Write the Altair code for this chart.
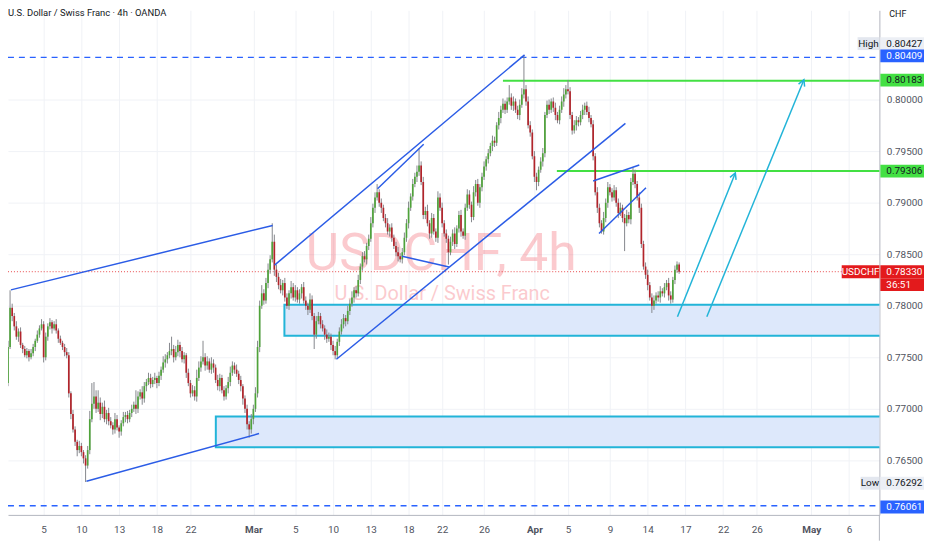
import math

import altair as alt
import pandas as pd

alt.data_transformers.disable_max_rows()

# ------------------------------------------------------------
# 1. Data – USDCHF 4h bars (prices in pips, 1 pip = 0.0001 CHF)
# ------------------------------------------------------------

first_bar = 2        # bar number of the first close below
first_open = 7712

closes = [
    7725, 7760, 7798, 7790, 7780, 7770, 7775, 7762, 7758, 7752,
    7756, 7750, 7754, 7760, 7766, 7772, 7778, 7782, 7750, 7770,
    7780, 7784, 7778, 7782, 7776, 7768, 7764, 7760, 7755, 7752,
    7715, 7695, 7680, 7668, 7660, 7664, 7658, 7652, 7645, 7660,
    7690, 7705, 7712, 7700, 7706, 7695, 7702, 7690, 7696, 7688,
    7684, 7680, 7690, 7682, 7678, 7686, 7692, 7694, 7690, 7696,
    7700, 7704, 7700, 7712, 7716, 7710, 7722, 7726, 7730, 7724,
    7728, 7730, 7725, 7732, 7738, 7745, 7748, 7752, 7756, 7758,
    7750, 7755, 7762, 7756, 7748, 7752, 7735, 7725, 7715, 7718,
    7712, 7730, 7740, 7746, 7750, 7742, 7746, 7738, 7744, 7740,
    7728, 7722, 7730, 7718, 7712, 7720, 7726, 7735, 7742, 7738,
    7734, 7728, 7722, 7710, 7700, 7685, 7680, 7690, 7700, 7715,
    7760, 7800, 7812, 7805, 7822, 7835, 7845, 7862, 7835, 7828,
    7820, 7815, 7822, 7808, 7800, 7812, 7818, 7808, 7815, 7806,
    7812, 7818, 7805, 7800, 7796, 7806, 7790, 7772, 7785, 7790,
    7782, 7778, 7772, 7768, 7770, 7762, 7756, 7752, 7765, 7775,
    7782, 7788, 7785, 7795, 7802, 7808, 7815, 7812, 7825, 7838,
    7848, 7845, 7858, 7865, 7880, 7895, 7905, 7910, 7900, 7895,
    7885, 7880, 7872, 7876, 7866, 7858, 7852, 7848, 7845, 7852,
    7866, 7880, 7895, 7906, 7918, 7925, 7930, 7936, 7920, 7888,
    7892, 7880, 7870, 7885, 7872, 7866, 7905, 7895, 7880, 7870,
    7865, 7852, 7862, 7870, 7860, 7875, 7888, 7872, 7868, 7895,
    7908, 7898, 7886, 7910, 7918, 7900, 7915, 7925, 7935, 7942,
    7948, 7955, 7960, 7958, 7975, 7982, 7990, 7996, 7990, 7998,
    8002, 7994, 7998, 7990, 7985, 7995, 8005, 8010, 7998, 7975,
    7968, 7945, 7925, 7920, 7932, 7940, 7948, 7985, 7995, 7990,
    7998, 7992, 7985, 7980, 7990, 7998, 8005, 8010, 8008, 7985,
    7970, 7975, 7980, 7978, 7985, 7990, 7994, 7988, 7982, 7976,
    7945, 7910, 7895, 7880, 7872, 7885, 7900, 7915, 7910, 7905,
    7912, 7900, 7890, 7895, 7885, 7880, 7888, 7884, 7920, 7928,
    7918, 7905, 7895, 7860, 7838, 7830, 7820, 7808, 7800, 7805,
    7810, 7808, 7814, 7812, 7818, 7822, 7810, 7806, 7825, 7835,
    7840, 7833,
]

# upper / lower wick beyond the body, pips
wick_up = [
    5, 6, 17, 4, 3, 5, 3, 4, 2, 3,
    3, 2, 4, 3, 2, 4, 3, 5, 3, 4,
    3, 4, 2, 3, 5, 2, 3, 2, 3, 4,
    3, 2, 4, 3, 2, 5, 3, 2, 3, 4,
    8, 20, 14, 6, 12, 5, 4, 6, 3, 5,
    4, 3, 6, 4, 2, 3, 5, 3, 4, 3,
    4, 3, 14, 5, 3, 6, 4, 3, 5, 4,
    3, 5, 2, 4, 3, 6, 5, 3, 8, 12,
    4, 6, 5, 3, 4, 3, 2, 4, 3, 5,
    4, 8, 6, 5, 16, 4, 5, 3, 6, 4,
    3, 5, 4, 3, 4, 3, 5, 6, 4, 3,
    5, 3, 4, 2, 3, 4, 3, 5, 4, 6,
    6, 5, 8, 4, 5, 6, 4, 18, 7, 5,
    4, 6, 3, 5, 4, 3, 6, 4, 5, 3,
    4, 3, 5, 4, 3, 6, 4, 3, 5, 4,
    3, 4, 3, 5, 4, 3, 4, 5, 3, 4,
    5, 4, 3, 5, 4, 6, 3, 4, 5, 3,
    4, 5, 3, 4, 6, 4, 5, 8, 3, 4,
    3, 4, 5, 3, 4, 3, 4, 5, 3, 4,
    5, 4, 6, 3, 5, 4, 6, 17, 4, 5,
    4, 6, 3, 5, 4, 3, 6, 4, 5, 3,
    4, 3, 5, 4, 6, 3, 4, 5, 3, 4,
    5, 4, 3, 6, 4, 5, 3, 4, 5, 3,
    4, 3, 5, 4, 3, 6, 4, 5, 3, 4,
    12, 4, 5, 3, 4, 5, 6, 33, 4, 5,
    4, 3, 5, 4, 3, 4, 5, 3, 4, 5,
    3, 4, 5, 3, 4, 5, 6, 4, 9, 4,
    3, 5, 4, 3, 4, 5, 3, 4, 5, 3,
    4, 3, 5, 4, 3, 6, 4, 5, 3, 4,
    5, 3, 4, 5, 3, 4, 5, 3, 4, 6,
    4, 3, 5, 4, 3, 4, 5, 3, 4, 5,
    3, 4, 5, 3, 4, 3, 5, 4, 3, 4,
    3, 2,
]

wick_dn = [
    4, 3, 2, 5, 4, 3, 5, 3, 4, 2,
    3, 4, 2, 3, 4, 2, 3, 2, 5, 3,
    4, 3, 5, 2, 3, 4, 2, 3, 4, 3,
    4, 5, 3, 4, 6, 3, 4, 5, 16, 3,
    4, 3, 5, 4, 3, 6, 4, 3, 5, 4,
    3, 5, 4, 3, 6, 4, 3, 5, 4, 3,
    4, 3, 5, 4, 3, 6, 4, 5, 3, 4,
    3, 4, 5, 3, 4, 3, 5, 4, 3, 4,
    5, 3, 4, 6, 3, 4, 5, 3, 4, 3,
    4, 5, 3, 4, 3, 5, 4, 3, 4, 5,
    3, 4, 5, 3, 4, 3, 5, 4, 3, 4,
    3, 4, 5, 6, 4, 5, 8, 4, 5, 3,
    4, 5, 3, 4, 3, 5, 4, 3, 6, 5,
    4, 3, 5, 4, 3, 4, 5, 3, 4, 3,
    4, 5, 3, 4, 5, 3, 4, 14, 4, 3,
    4, 3, 5, 4, 3, 5, 4, 4, 3, 4,
    3, 4, 5, 3, 4, 3, 5, 4, 3, 4,
    4, 3, 5, 4, 3, 4, 5, 3, 4, 5,
    3, 4, 3, 5, 4, 3, 4, 5, 3, 4,
    3, 4, 5, 3, 4, 3, 5, 4, 3, 4,
    4, 3, 5, 4, 3, 4, 5, 3, 4, 3,
    4, 12, 3, 4, 5, 3, 4, 5, 3, 4,
    3, 4, 5, 3, 4, 3, 5, 4, 3, 4,
    4, 3, 5, 4, 3, 4, 5, 3, 4, 3,
    3, 4, 5, 3, 4, 5, 3, 4, 4, 3,
    4, 3, 5, 8, 4, 3, 5, 4, 3, 4,
    3, 4, 5, 3, 4, 3, 5, 4, 3, 4,
    4, 3, 5, 4, 3, 4, 5, 3, 4, 3,
    4, 3, 5, 4, 2, 3, 4, 5, 3, 4,
    3, 4, 5, 3, 4, 27, 3, 4, 5, 3,
    4, 3, 5, 4, 3, 4, 5, 3, 7, 4,
    3, 4, 5, 3, 4, 3, 5, 4, 3, 4,
    3, 2,
]

# time axis: bar number of each date label (weekends are skipped)
tick_bars = [20, 38, 56, 74, 90, 120, 140, 158, 176, 194, 210,
             230, 254, 270, 290, 308, 326, 344, 360, 386, 404]
tick_labels = ["5", "10", "13", "18", "22", "Mar", "5", "10", "13", "18", "22",
               "26", "Apr", "5", "9", "14", "17", "22", "26", "May", "6"]
month_labels = ["Mar", "Apr", "May"]

price_ticks = [0.765, 0.770, 0.775, 0.780, 0.785, 0.790, 0.795, 0.800]

# drawn objects
dashed_levels = [0.80409, 0.76061]
green_levels = [0.80183, 0.79306]
green_from = [239.0, 264.7]
zone_from = [134.8, 102.1]
zone_top = [0.78010, 0.76926]
zone_bottom = [0.77710, 0.76628]
last_price = 0.78330

# trendlines: bar / price of both ends
tl_bar1 = [4.4, 40.4, 130.1, 179.2, 159.6, 190.9, 282.0, 284.8]
tl_px1 = [0.78154, 0.76298, 0.78394, 0.79135, 0.77481, 0.78480, 0.79210, 0.78700]
tl_bar2 = [129.2, 122.7, 249.3, 201.2, 297.4, 213.3, 304.0, 307.2]
tl_px2 = [0.78779, 0.76760, 0.80433, 0.79567, 0.79769, 0.78375, 0.79365, 0.79144]

# projection arrows
arr_bar1 = [322.2, 336.2]
arr_px1 = [0.77894, 0.77894]
arr_bar2 = [349.8, 382.5]
arr_px2 = [0.79288, 0.80192]

# price-scale tags
tag_price = [0.80427, 0.80409, 0.80183, 0.79306, 0.78330, 0.76292, 0.76061]
tag_text = ["0.80427", "0.80409", "0.80183", "0.79306", "0.78330", "0.76292", "0.76061"]
side_price = [0.80427, 0.78330, 0.76292]
side_text = ["High", "USDCHF", "Low"]
countdown = "36:51"

# ------------------------------------------------------------
# 2. Layout / style
# ------------------------------------------------------------

PLOT_W, PLOT_H = 879, 509
X_DOM = [5.374, 416.12]
Y_DOM = [0.759712, 0.808654]
PX_PER_PRICE = PLOT_H / (Y_DOM[1] - Y_DOM[0])
PX_PER_BAR = PLOT_W / (X_DOM[1] - X_DOM[0])
X_BEYOND = X_DOM[1] + 5   # objects running off the right edge

FONT = "Roboto"
TEXT = "#131722"
AXIS_TXT = "#50535e"
BLUE = "#2962ff"
LINE_BLUE = "#2b5ce6"
GREEN = "#43e043"
RED = "#e31a1c"
CYAN = "#22b4d8"
UP = "#4fa33a"
DOWN = "#b2242b"
WICK = "#85878c"
GRID = "#f0f2f6"

xs = alt.Scale(domain=X_DOM, nice=False, zero=False)
ys = alt.Scale(domain=Y_DOM, nice=False, zero=False)

label_expr = (
    "[" + ",".join(f"'{t}'" for t in tick_labels) + "]"
    + "[indexof([" + ",".join(str(b) for b in tick_bars) + "], datum.value)]"
)
month_test = " || ".join(
    f"datum.value == {b}" for b, t in zip(tick_bars, tick_labels) if t in month_labels
)

x_axis = alt.Axis(
    values=tick_bars, labelExpr=label_expr, title=None, ticks=False,
    grid=True, gridColor=GRID, domainColor="#b2b5be", labelColor=AXIS_TXT,
    labelFont=FONT, labelFontSize=10, labelPadding=10, labelOverlap=False,
    labelFlush=False,
    labelFontWeight={"condition": {"test": month_test, "value": "bold"}, "value": "normal"},
)
y_axis = alt.Axis(
    orient="right", values=price_ticks, format=".5f", title=None, ticks=False,
    grid=True, gridColor=GRID, domainColor="#b2b5be", labelColor=AXIS_TXT,
    labelFont=FONT, labelFontSize=10, labelPadding=7, labelOverlap=False,
    labelFlush=False,
)


def X(f):
    return alt.X(f, type="quantitative", scale=xs, axis=x_axis)


def Y(f):
    return alt.Y(f, type="quantitative", scale=ys, axis=y_axis)


# ------------------------------------------------------------
# 3. Tables
# ------------------------------------------------------------

rows = []
prev = first_open
for k, (c, wu, wd) in enumerate(zip(closes, wick_up, wick_dn)):
    o = prev
    rows.append({
        "bar": first_bar + k,
        "open": o / 1e4,
        "close": c / 1e4,
        "high": (max(o, c) + wu) / 1e4,
        "low": (min(o, c) - wd) / 1e4,
        "dir": "up" if c >= o else "down",
    })
    prev = c
candles = pd.DataFrame(rows)

dashed_df = pd.DataFrame({"p": dashed_levels})
green_df = pd.DataFrame({"p": green_levels, "b1": green_from, "b2": X_BEYOND})
zone_df = pd.DataFrame({"b1": zone_from, "b2": X_BEYOND, "top": zone_top, "bot": zone_bottom})
last_df = pd.DataFrame({"p": [last_price]})
tl_df = pd.DataFrame({"b1": tl_bar1, "p1": tl_px1, "b2": tl_bar2, "p2": tl_px2})
arr_df = pd.DataFrame({"b1": arr_bar1, "p1": arr_px1, "b2": arr_bar2, "p2": arr_px2})
arr_df["ang"] = [
    math.degrees(math.atan2((b2 - b1) * PX_PER_BAR, (p2 - p1) * PX_PER_PRICE))
    for b1, p1, b2, p2 in zip(arr_bar1, arr_px1, arr_bar2, arr_px2)
]

# tag styling: fill, text colour, vertical nudge in px (up)
tag_fill = ["#eceff5", BLUE, GREEN, GREEN, RED, "#eceff5", BLUE]
tag_ink = [TEXT, "white", TEXT, TEXT, "white", TEXT, "white"]
tag_nudge = [12, 1.5, 0.5, 0, 0, -1.4, -1.4]
tags = pd.DataFrame({"p": tag_price, "t": tag_text, "fill": tag_fill, "ink": tag_ink})
tags["pos"] = tags["p"] + pd.Series(tag_nudge) / PX_PER_PRICE

side_fill = ["#e3e7ef", RED, "#e3e7ef"]
side_ink = [TEXT, "white", TEXT]
side_x1 = [857, 841, 860]
side_nudge = [12, 0, -1.4]
sides = pd.DataFrame({"p": side_price, "t": side_text, "fill": side_fill,
                      "ink": side_ink, "x1": side_x1})
sides["pos"] = sides["p"] + pd.Series(side_nudge) / PX_PER_PRICE
sides["xc"] = (sides["x1"] + PLOT_W) / 2

# ------------------------------------------------------------
# 4. Layers
# ------------------------------------------------------------

one = pd.DataFrame({"k": [0]})

watermark = alt.Chart(one).mark_text(
    text="USDCHF, 4h", font=FONT, fontSize=52, color="#f23645", opacity=0.26,
    align="center", baseline="alphabetic",
).encode(x=alt.value(437), y=alt.value(262))

watermark2 = alt.Chart(one).mark_text(
    text="U.S. Dollar / Swiss Franc", font=FONT, fontSize=20, color="#f23645",
    opacity=0.26, align="center", baseline="alphabetic",
).encode(x=alt.value(438), y=alt.value(292))

title = alt.Chart(one).mark_text(
    text="U.S. Dollar / Swiss Franc · 4h · OANDA", font=FONT, fontSize=9.5,
    color=TEXT, align="left", baseline="middle",
).encode(x=alt.value(0), y=alt.value(3))

zones = alt.Chart(zone_df).mark_rect(
    fill="#dde8fb", stroke=CYAN, strokeWidth=2, clip=True
).encode(x=X("b1"), x2="b2", y=Y("top"), y2="bot")

dashed = alt.Chart(dashed_df).mark_rule(
    color=BLUE, strokeWidth=1.5, strokeDash=[6, 5]
).encode(y=Y("p"), x=alt.value(0), x2=alt.value(PLOT_W))

greens = alt.Chart(green_df).mark_rule(color=GREEN, strokeWidth=2, clip=True).encode(
    x=X("b1"), x2="b2", y=Y("p")
)

last_line = alt.Chart(last_df).mark_rule(
    color=RED, strokeWidth=1, strokeDash=[1, 2], opacity=0.8
).encode(y=Y("p"), x=alt.value(0), x2=alt.value(PLOT_W))

wicks = alt.Chart(candles).mark_rule(color=WICK, strokeWidth=1, clip=True).encode(
    x=X("bar"), y=Y("low"), y2="high"
)

bodies = alt.Chart(candles).mark_bar(width=1.7, clip=True).encode(
    x=X("bar"), y=Y("open"), y2="close",
    color=alt.Color("dir:N", scale=alt.Scale(domain=["up", "down"], range=[UP, DOWN]),
                    legend=None),
)

trend = alt.Chart(tl_df).mark_rule(color=LINE_BLUE, strokeWidth=1.5, clip=True).encode(
    x=X("b1"), x2="b2", y=Y("p1"), y2="p2"
)

arrows = alt.Chart(arr_df).mark_rule(color=CYAN, strokeWidth=1.5, clip=True).encode(
    x=X("b1"), x2="b2", y=Y("p1"), y2="p2"
)

heads = alt.Chart(arr_df).mark_point(
    shape="M-0.7,1.3L0,0L0.7,1.3", filled=False, stroke=CYAN, strokeWidth=1.5,
    size=90, opacity=1,
).encode(x=X("b2"), y=Y("p2"), angle=alt.Angle("ang:Q", scale=None))

tag_box = alt.Chart(tags).mark_rect(yOffset=-6.5, y2Offset=6.5).encode(
    y=Y("pos"), y2="pos", x=alt.value(PLOT_W + 1), x2=alt.value(PLOT_W + 45),
    fill=alt.Fill("fill:N", scale=None),
)
tag_txt = alt.Chart(tags).mark_text(
    font=FONT, fontSize=10, align="left", baseline="middle"
).encode(
    y=Y("pos"), x=alt.value(PLOT_W + 7), text="t:N",
    color=alt.Color("ink:N", scale=None),
)

count_box = alt.Chart(last_df).mark_rect(fill=RED, yOffset=6.5, y2Offset=19.5).encode(
    y=Y("p"), y2="p", x=alt.value(PLOT_W + 1), x2=alt.value(PLOT_W + 45)
)
count_txt = alt.Chart(last_df).mark_text(
    text=countdown, font=FONT, fontSize=10, align="left", baseline="middle",
    color="white", dy=13,
).encode(y=Y("p"), x=alt.value(PLOT_W + 7))

side_box = alt.Chart(sides).mark_rect(yOffset=-6.5, y2Offset=6.5).encode(
    y=Y("pos"), y2="pos", x=alt.X("x1:Q", scale=None), x2=alt.value(PLOT_W),
    fill=alt.Fill("fill:N", scale=None),
)
side_txt = alt.Chart(sides).mark_text(
    font=FONT, fontSize=10, align="center", baseline="middle"
).encode(
    y=Y("pos"), x=alt.X("xc:Q", scale=None), text="t:N",
    color=alt.Color("ink:N", scale=None),
)

ccy = alt.Chart(one).mark_text(
    text="CHF", font=FONT, fontSize=9, color=TEXT, align="left", baseline="middle"
).encode(x=alt.value(PLOT_W + 10), y=alt.value(4))

axis_tail = alt.Chart(one).mark_rule(color="#b2b5be").encode(
    x=alt.value(PLOT_W), y=alt.value(PLOT_H), y2=alt.value(PLOT_H + 26)
)

chart = alt.layer(
    watermark, watermark2, title, zones, dashed, greens, last_line,
    wicks, bodies, trend, arrows, heads,
    tag_box, tag_txt, count_box, count_txt, side_box, side_txt, ccy, axis_tail,
).properties(
    width=PLOT_W,
    height=PLOT_H,
    autosize=alt.AutoSizeParams(type="none"),
    padding={"left": 0, "top": 0, "right": 45, "bottom": 26},
    background="white",
).configure_view(stroke=None)

chart.save("out.html", embed_options={"renderer": "svg", "actions": False})
